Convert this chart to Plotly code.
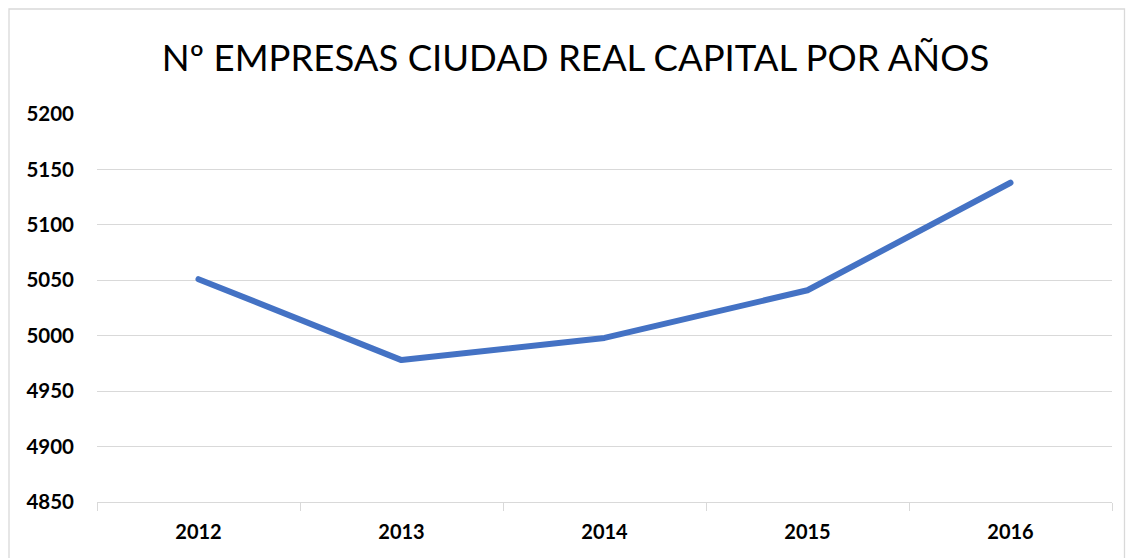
import plotly.graph_objects as go

years = ["2012", "2013", "2014", "2015", "2016"]
empresas = [5051, 4978, 4998, 5041, 5138]
y_ticks = [4850, 4900, 4950, 5000, 5050, 5100, 5150, 5200]

W, H = 1126, 558
L, R, T, B = 97, 14, 114, 56
pw, ph = W - L - R, H - T - B

def px_x(p):
    return (p - L) / pw

def px_y(p):
    return (H - B - p) / ph

grid = "#D9D9D9"
FONT = "Lato, Open Sans, sans-serif"

fig = go.Figure()
fig.add_trace(go.Scatter(
    x=years, y=empresas, mode="lines",
    line=dict(color="#4472C4", width=6),
    hoverinfo="x+y", showlegend=False,
))

fig.update_layout(
    width=W, height=H,
    margin=dict(l=L, r=R, t=T, b=B, autoexpand=False),
    paper_bgcolor="white", plot_bgcolor="white",
    title=dict(
        text="Nº EMPRESAS CIUDAD REAL CAPITAL POR AÑOS",
        x=575.5 / W, xanchor="center", y=1 - 58 / H, yanchor="middle",
        font=dict(family=FONT, size=36.5, color="#000000"),
    ),
    font=dict(family=FONT, color="#000000"),
    shapes=[dict(
        type="rect", xref="paper", yref="paper",
        x0=px_x(9), x1=px_x(1124.5), y0=px_y(570), y1=px_y(9),
        line=dict(color=grid, width=1.3), fillcolor="rgba(0,0,0,0)", layer="below",
    )],
)

fig.update_xaxes(
    type="category", range=[-0.5, len(years) - 0.5],
    showgrid=False,
    showline=True, linecolor=grid, linewidth=1.3,
    ticks="outside", tickson="boundaries", ticklen=8, tickcolor=grid, tickwidth=1.3,
    tickfont=dict(size=20, family=FONT, color="#000000", weight="bold"),
    ticklabelstandoff=12,
)
fig.update_yaxes(
    range=[4850, 5200],
    tickvals=y_ticks, ticktext=[str(v) for v in y_ticks],
    showgrid=True, gridcolor=grid, gridwidth=1.3,
    zeroline=False, showline=False, ticks="",
    tickfont=dict(size=20.5, family=FONT, color="#000000", weight="bold"),
    ticklabelstandoff=22,
)

fig.write_html(
    "out.html",
    config={"displayModeBar": False},
    post_script=(
        "document.body.style.margin='0';document.body.style.overflow='hidden';"
        "document.querySelectorAll('.scatterlayer path.js-line').forEach(function(p){"
        "p.style.strokeLinecap='round';p.style.strokeLinejoin='round';});"
    ),
)
